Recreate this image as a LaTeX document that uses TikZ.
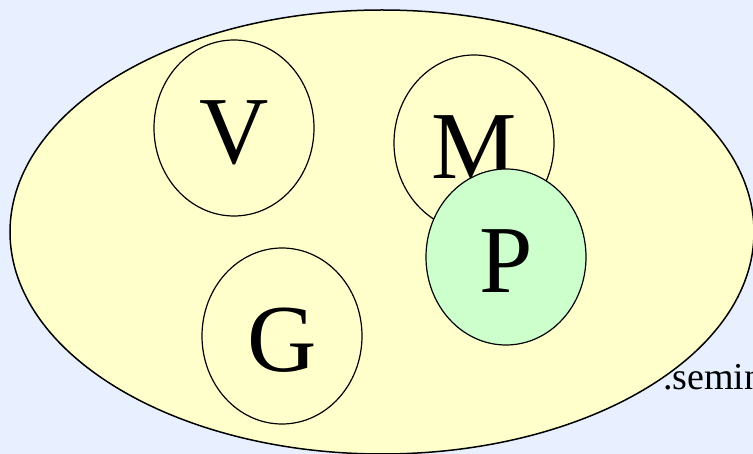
\documentclass[tikz,border=0pt]{standalone}
\usepackage{fontspec}
\setmainfont{Liberation Serif}
\usetikzlibrary{shapes.geometric}
\definecolor{bgblue}{RGB}{232,240,255}
\definecolor{setyellow}{RGB}{255,255,204}
\definecolor{setgreen}{RGB}{204,255,204}
\tikzset{
  subset/.style={draw, ellipse, line width=1.2pt, fill=setyellow,
    minimum width=160pt, minimum height=176pt, inner sep=0pt,
    font=\fontsize{96}{96}\selectfont, text height=72pt},
}
\begin{document}
\begin{tikzpicture}[x=1pt, y=-1pt]
  \useasboundingbox (0,0) rectangle (753,454);
  \clip (0,0) rectangle (753,454);
  \fill[bgblue] (0,0) rectangle (753,454);
  % Universo
  \node[draw, ellipse, line width=1.5pt, fill=setyellow,
    minimum width=744pt, minimum height=444pt, inner sep=0pt] (U) at (382,232) {};
  % Subconjuntos
  \node[subset] (V) at (234,128) {V};
  \node[subset] (G) at (282,336) {G};
  \node[subset] (M) at (474,143) {M};
  \node[subset, fill=setgreen] (P) at (506,257) {P};
  % Texto
  \node[anchor=base west, inner sep=0pt,
    font=\fontsize{38}{38}\selectfont] (S) at (663,390) {.semin};
\end{tikzpicture}
\end{document}
